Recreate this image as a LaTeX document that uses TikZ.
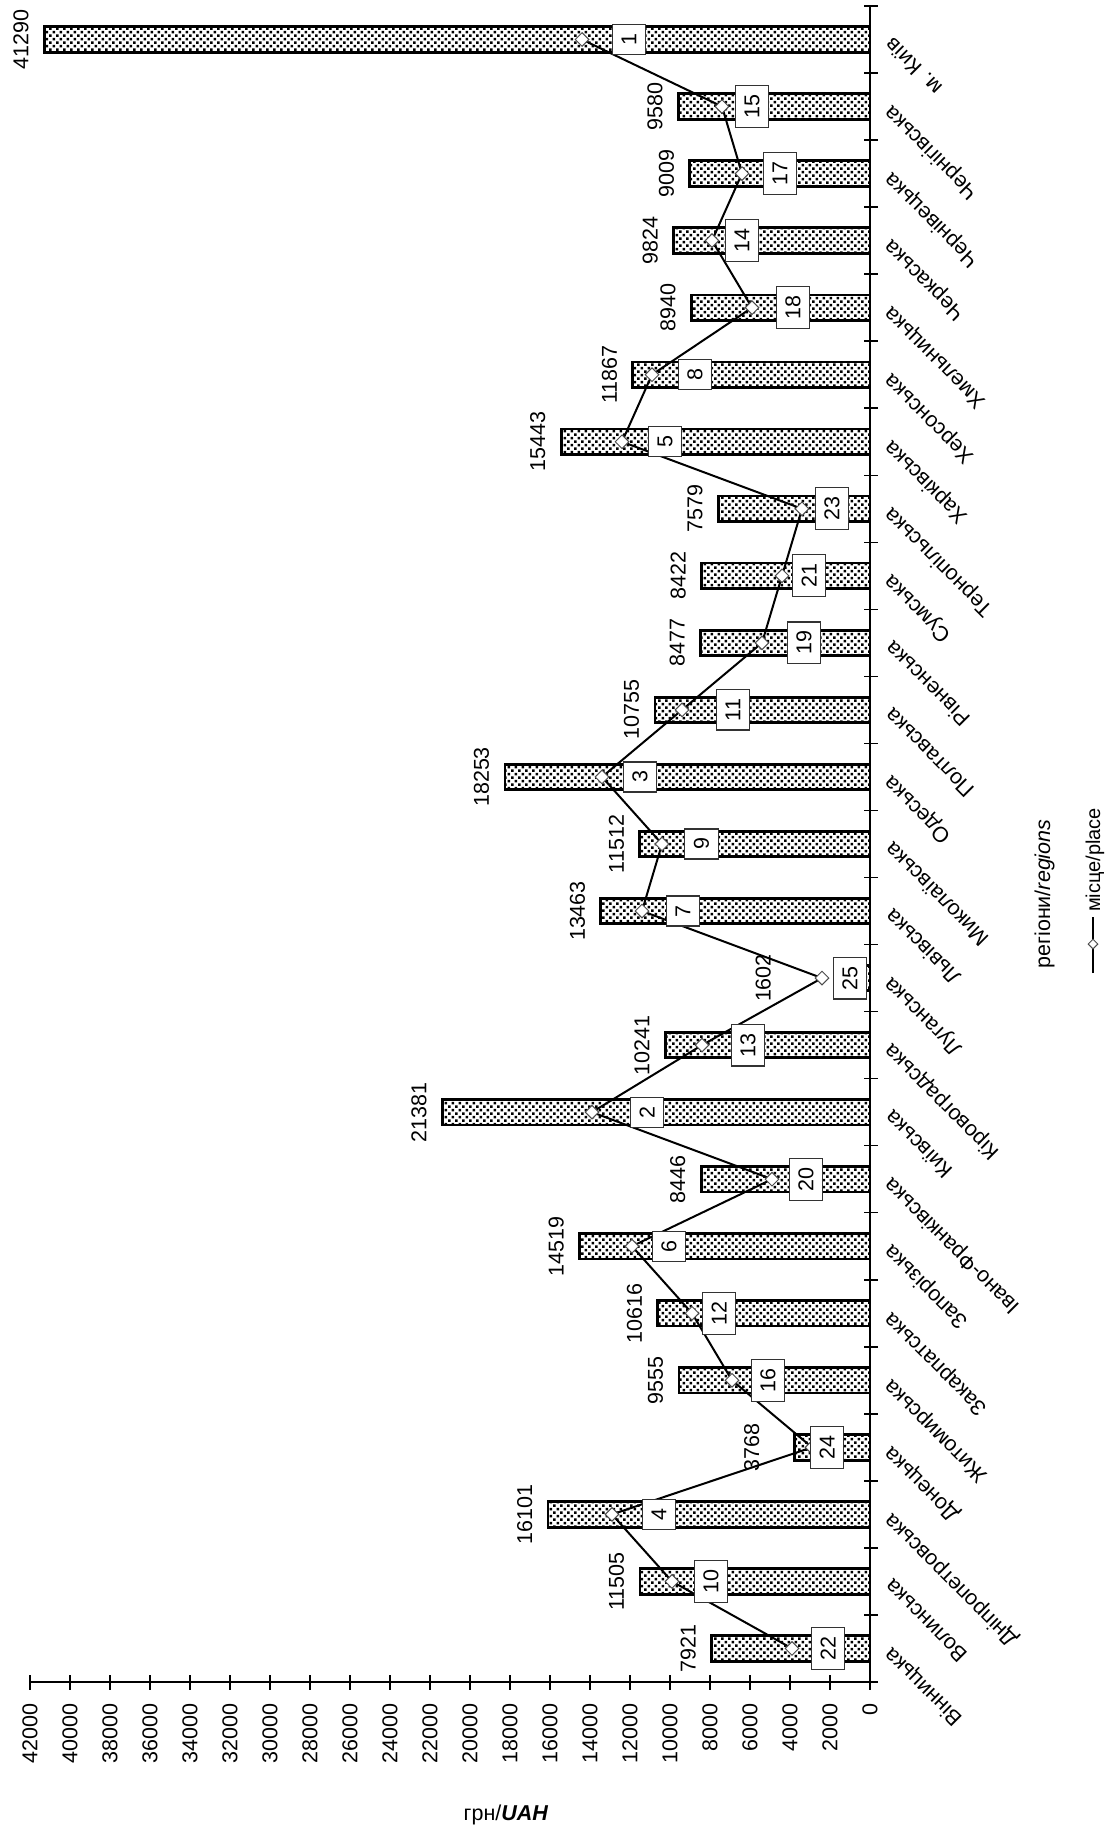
\documentclass[tikz,border=0pt]{standalone}
\usepackage{fontspec}
\setmainfont{Liberation Sans}
\usetikzlibrary{shapes.geometric,patterns}

\pgfdeclarepatternformonly{bardots}{\pgfqpoint{-1pt}{-1pt}}{\pgfqpoint{8pt}{8pt}}{\pgfqpoint{7pt}{7pt}}{%
  \pgfpathrectangle{\pgfqpoint{0pt}{0pt}}{\pgfqpoint{2.6pt}{2.6pt}}%
  \pgfpathrectangle{\pgfqpoint{3.5pt}{3.5pt}}{\pgfqpoint{2.6pt}{2.6pt}}%
  \pgfusepath{fill}}

% index/region/value/place/box x/label gap
\def\regiondata{1/Вінницька/7921/22/828/15.5, 2/Волинська/11505/10/711/15.5,
  3/Дніпропетровська/16101/4/659/15.5, 4/Донецька/3768/24/827/35,
  5/Житомирська/9555/16/768/15.5, 6/Закарпатська/10616/12/719/15.5,
  7/Запорізька/14519/6/669/15.5, 8/Івано-Франківська/8446/20/806/15.5,
  9/Київська/21381/2/647/15.5, 10/Кіровоградська/10241/13/748/15.5,
  11/Луганська/1602/25/850/67, 12/Львівська/13463/7/683/15.5,
  13/Миколаївська/11512/9/701.5/15.5, 14/Одеська/18253/3/640/15.5,
  15/Полтавська/10755/11/733/15.5, 16/Рівненська/8477/19/804/15.5,
  17/Сумська/8422/21/809/15.5, 18/Тернопільська/7579/23/832/15.5,
  19/Харківська/15443/5/665/15.5, 20/Херсонська/11867/8/695/15.5,
  21/Хмельницька/8940/18/793/15.5, 22/Черкаська/9824/14/742/15.5,
  23/Чернівецька/9009/17/780/15.5, 24/Чернігівська/9580/15/752/15.5,
  25/м. Київ/41290/1/629/15.5}

\begin{document}
\begin{tikzpicture}[x=1pt,y=-1pt,
    font=\fontsize{21.5}{25}\selectfont,
    bar/.style={draw=black,line width=2.8pt,pattern=bardots},
    vlabel/.style={rotate=90,anchor=south,inner sep=0pt},
    rankbox/.style={draw=black!80,fill=white,line width=1.2pt,rotate=90,inner sep=9pt},
    marker/.style={diamond,draw=black!70,fill=white,line width=1pt,
      minimum width=14pt,minimum height=14pt,inner sep=0pt},
    catlabel/.style={rotate=135,anchor=east,inner sep=0pt}]
    \fill [white] (0,0) rectangle (1107,1829);
    \useasboundingbox (0,0) rectangle (1107,1829);

    % bars, values and region names
    \foreach \i/\name/\val/\rank/\bx/\gap in \regiondata
        {\pgfmathsetmacro\yc{1715.5-67.04*\i}
         \edef\xt{\number\numexpr8700-\val/5\relax}
         \pgfmathsetmacro\xe{\xt/10}
         \draw [bar] (870,{\yc-12.75}) rectangle (\xe,{\yc+12.75});
         \node [vlabel] (val\i) at ({\xe-\gap},\yc) {\val};
         \node [catlabel] (cat\i) at (888,{\yc+2}) {\name};
         \coordinate (pt\i) at ({572+10*\rank},\yc);}

    % axes
    \draw [line width=2pt] (870,6) -- (870,1682) -- (29.6,1682);
    \foreach \j in {0,...,25}
        {\draw [line width=1.5pt] (864,{6+67.04*\j}) -- (878,{6+67.04*\j});}
    \foreach \k in {0,...,21}
        {\draw [line width=1.5pt] ({870-40*\k},1675) -- ({870-40*\k},1690);
         \node [rotate=90,anchor=east,inner sep=0pt] (tick\k) at ({870-40*\k},1703)
            {\number\numexpr2000*\k\relax};}

    % place line
    \draw [line width=2pt] (pt1) \foreach \i in {2,...,25} { -- (pt\i)};
    \foreach \i in {1,...,25}
        {\node [marker] (dm\i) at (pt\i) {};}
    \foreach \i/\name/\val/\rank/\bx/\gap in \regiondata
        {\pgfmathsetmacro\yc{1715.5-67.04*\i}
         \node [rankbox] (rk\i) at (\bx,\yc) {\rank};}

    % titles and legend
    \node [anchor=base] (unit) at (506,1820) {грн/\textit{\textbf{UAH}}};
    \node [rotate=90,anchor=base,inner sep=0pt] (axtitle) at (1050,894) {регіони/\textit{regions}};
    \coordinate (lgA) at (1093,973);
    \coordinate (lgB) at (1093,917);
    \draw [line width=2pt] (lgA) -- (lgB);
    \node [marker,minimum width=10pt,minimum height=10pt] (lgmark) at (1093,944) {};
    \node [rotate=90,anchor=base west,inner sep=0pt,font=\fontsize{20}{24}\selectfont]
        (lgtext) at (1100,912) {місце/place};
\end{tikzpicture}
\end{document}
